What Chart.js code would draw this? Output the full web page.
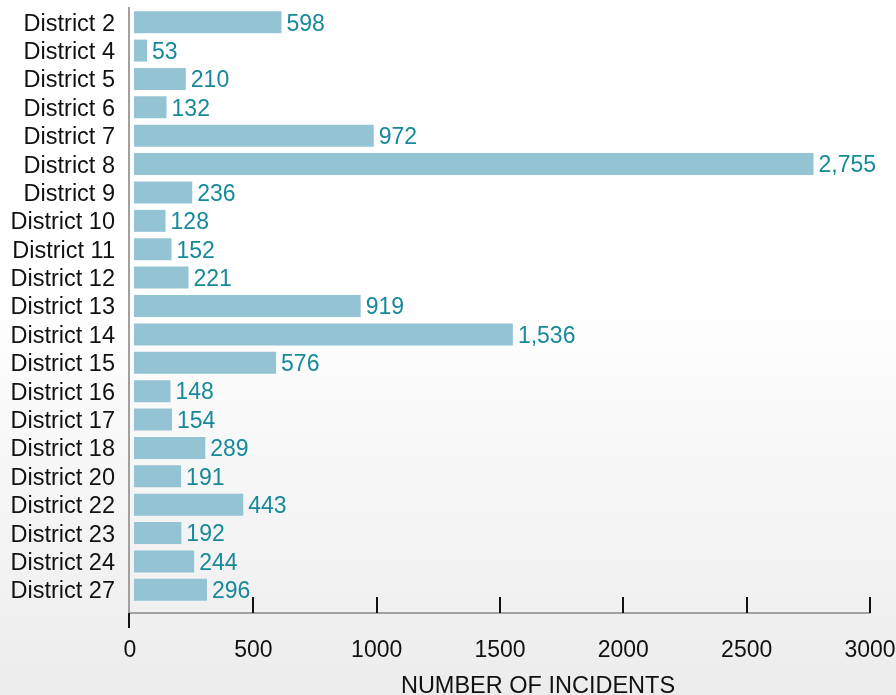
<!DOCTYPE html>
<html lang="en">

<head>
    <meta charset="UTF-8">
    <title>Incidents by District</title>
    <script src="https://cdn.jsdelivr.net/npm/chart.js"></script>
    <style>
        html, body {
            margin: 0;
            padding: 0;
        }
        body {
            width: 896px;
            height: 695px;
            overflow: hidden;
            background: linear-gradient(to bottom, #ffffff 0%, #ffffff 42%, #ececec 100%);
        }
        canvas {
            display: block;
        }
    </style>
</head>

<body>
    <canvas id="incidentChart" width="896" height="695"></canvas>

    <script>
        // Data
        const districts = ['District 2', 'District 4', 'District 5', 'District 6', 'District 7', 'District 8',
            'District 9', 'District 10', 'District 11', 'District 12', 'District 13', 'District 14',
            'District 15', 'District 16', 'District 17', 'District 18', 'District 20', 'District 22',
            'District 23', 'District 24', 'District 27'];
        const incidents = [598, 53, 210, 132, 972, 2755, 236, 128, 152, 221, 919, 1536,
            576, 148, 154, 289, 191, 443, 192, 244, 296];
        const xTicks = [0, 500, 1000, 1500, 2000, 2500, 3000];
        const xTitle = 'NUMBER OF INCIDENTS';

        const FONT = '"Liberation Sans", Arial, Helvetica, sans-serif';
        const BAR_COLOR = '#94c4d3';
        const LABEL_COLOR = '#16899b';
        const BAR_SHIFT = 4; // bars sit a few px off the axis line

        // Axis lines, tick marks and the axis title, drawn against the chart's scales
        const axisPlugin = {
            id: 'axisPlugin',
            afterDraw(chart) {
                const ctx = chart.ctx;
                const area = chart.chartArea;
                const x = chart.scales.x;
                const axisY = area.bottom + 9;

                ctx.save();
                ctx.strokeStyle = '#a0a0a0';
                ctx.lineWidth = 2;
                ctx.beginPath();
                ctx.moveTo(area.left - 1, area.top - 1);
                ctx.lineTo(area.left - 1, axisY);
                ctx.lineTo(x.getPixelForValue(xTicks[xTicks.length - 1]), axisY);
                ctx.stroke();

                ctx.strokeStyle = '#111';
                ctx.lineWidth = 2;
                xTicks.forEach(v => {
                    const px = Math.round(x.getPixelForValue(v)) - (v === 0 ? 1 : 0);
                    ctx.beginPath();
                    if (v === 0) {
                        ctx.moveTo(px, axisY);
                        ctx.lineTo(px, axisY + 15);
                    } else {
                        ctx.moveTo(px, axisY - 16);
                        ctx.lineTo(px, axisY);
                    }
                    ctx.stroke();
                });

                // title sits a bit right of the axis centre in the original
                ctx.fillStyle = '#111';
                ctx.font = '23.5px ' + FONT;
                ctx.textAlign = 'center';
                ctx.textBaseline = 'alphabetic';
                ctx.fillText(xTitle, (x.left + x.right) / 2 + 38, 693);
                ctx.restore();
            }
        };

        // Shift bars and print their values at the end
        const valuePlugin = {
            id: 'valuePlugin',
            beforeDatasetsDraw(chart) {
                chart.ctx.save();
                chart.ctx.translate(BAR_SHIFT, 0);
            },
            afterDatasetsDraw(chart) {
                const ctx = chart.ctx;
                ctx.restore();
                const meta = chart.getDatasetMeta(0);
                ctx.save();
                ctx.font = '23px ' + FONT;
                ctx.fillStyle = LABEL_COLOR;
                ctx.textAlign = 'left';
                ctx.textBaseline = 'middle';
                meta.data.forEach((bar, i) => {
                    const label = incidents[i].toLocaleString('en-US');
                    ctx.fillText(label, bar.x + BAR_SHIFT + 5, bar.y + 2);
                });
                ctx.restore();
            }
        };

        const ctx = document.getElementById('incidentChart').getContext('2d');
        new Chart(ctx, {
            type: 'bar',
            data: {
                labels: districts,
                datasets: [{
                    data: incidents,
                    backgroundColor: BAR_COLOR,
                    borderWidth: 0,
                    barPercentage: 0.775,
                    categoryPercentage: 1
                }]
            },
            plugins: [axisPlugin, valuePlugin],
            options: {
                indexAxis: 'y',
                responsive: false,
                animation: false,
                layout: {
                    padding: { top: 8, right: 26, left: 0, bottom: 0 }
                },
                plugins: {
                    legend: { display: false },
                    tooltip: { enabled: false }
                },
                scales: {
                    x: {
                        min: 0,
                        max: 3000,
                        afterBuildTicks: scale => {
                            scale.ticks = xTicks.map(v => ({ value: v }));
                        },
                        afterFit: scale => {
                            scale.height = 91;
                            scale.paddingLeft = 0;
                            scale.paddingRight = 0;
                        },
                        grid: { display: false, drawTicks: false },
                        border: { display: false },
                        ticks: {
                            color: '#111',
                            font: { family: FONT, size: 23 },
                            padding: 33,
                            maxRotation: 0,
                            autoSkip: false,
                            callback: v => String(v)
                        },
                        title: { display: false }
                    },
                    y: {
                        afterFit: scale => {
                            scale.width = 130;
                            scale.paddingTop = 0;
                            scale.paddingBottom = 0;
                        },
                        grid: { display: false, drawTicks: false },
                        border: { display: false },
                        ticks: {
                            color: '#111',
                            font: { family: FONT, size: 23.5 },
                            padding: 15,
                            labelOffset: 2,
                            autoSkip: false
                        }
                    }
                }
            }
        });
    </script>
</body>

</html>
